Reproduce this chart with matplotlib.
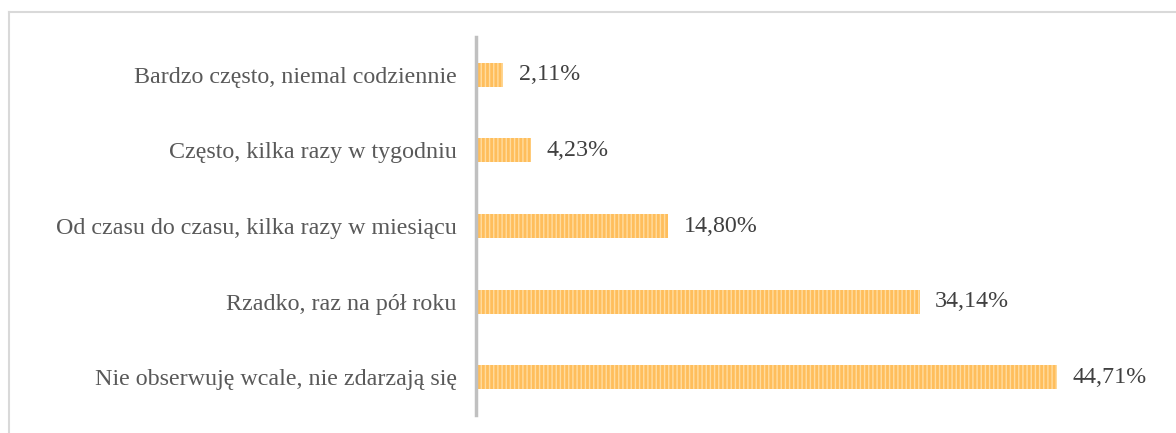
import matplotlib.pyplot as plt
from matplotlib.lines import Line2D

categories = [
    'Bardzo często, niemal codziennie',
    'Często, kilka razy w tygodniu',
    'Od czasu do czasu, kilka razy w miesiącu',
    'Rzadko, raz na pół roku',
    'Nie obserwuję wcale, nie zdarzają się',
]
values = [2.11, 4.23, 14.80, 34.14, 44.71]
value_labels = ['2,11%', '4,23%', '14,80%', '34,14%', '44,71%']

W, H = 1176, 433
plt.rcParams['font.family'] = ['Liberation Serif', 'DejaVu Serif']
plt.rcParams['hatch.linewidth'] = 1.0

fig = plt.figure(figsize=(W / 100, H / 100), dpi=100)
ax = fig.add_axes([476 / W, 18 / H, 676 / W, 378 / H])

bars = ax.barh(range(len(categories)), values, height=0.32,
               color='#FFBE5C', edgecolor='#FFDCA0', linewidth=0, hatch='||||')
ax.set_ylim(4.5, -0.5)
ax.set_xlim(0, 52)

for i, (v, lab) in enumerate(zip(values, value_labels)):
    ax.annotate(lab, (v, i), xytext=(11, 0), textcoords='offset points',
                va='center', ha='left', fontsize=17.3, color='#404040')

ax.set_yticks(range(len(categories)))
ax.set_yticklabels(categories, fontsize=17.3, color='#595959')
ax.tick_params(axis='y', length=0, pad=14)
ax.set_xticks([])
for s in ['top', 'right', 'bottom']:
    ax.spines[s].set_visible(False)
ax.spines['left'].set_color('#c0c0c0')
ax.spines['left'].set_linewidth(2.5)

# outer frame (top and left edges visible)
fig.add_artist(Line2D([8.5 / W, 1.01], [1 - 11.5 / H, 1 - 11.5 / H],
                      transform=fig.transFigure, color='#d9d9d9', lw=1.5))
fig.add_artist(Line2D([8.5 / W, 8.5 / W], [1 - 11.5 / H, -0.01],
                      transform=fig.transFigure, color='#d9d9d9', lw=1.5))

fig.savefig('out.png', dpi=100)
